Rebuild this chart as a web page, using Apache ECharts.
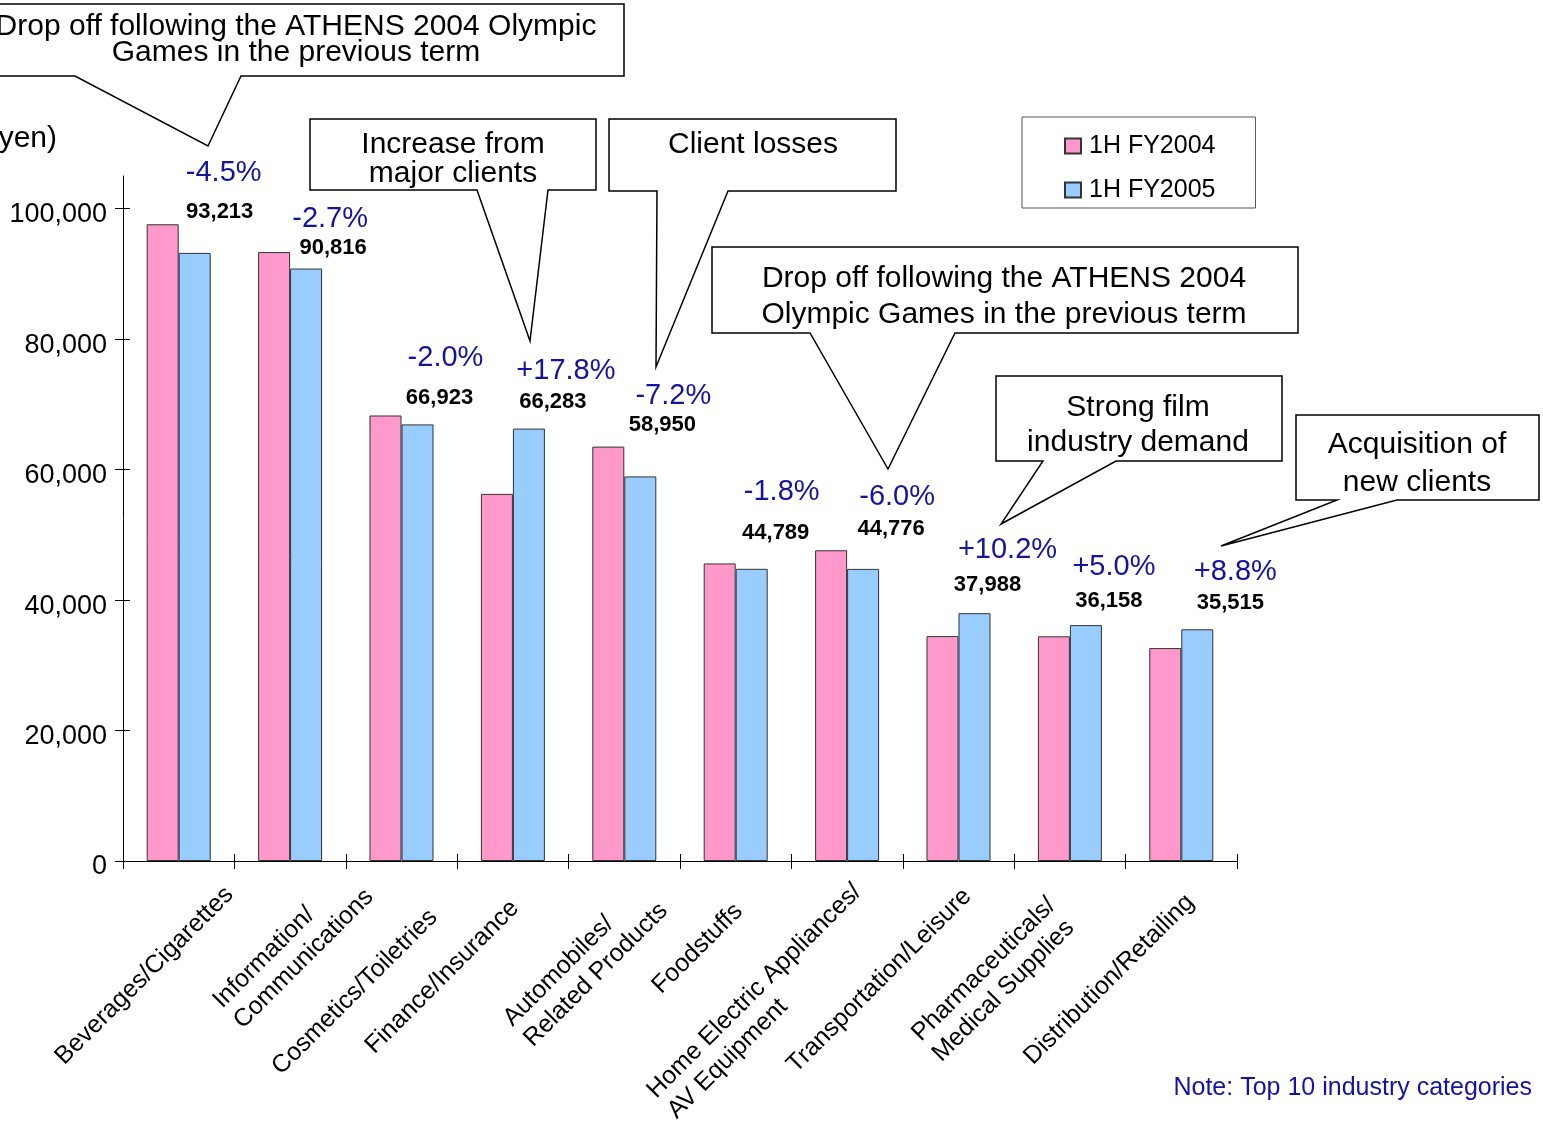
<!DOCTYPE html>
<html><head><meta charset="utf-8">
<script src="https://cdn.jsdelivr.net/npm/echarts@6/dist/echarts.min.js"></script>
<style>html,body{margin:0;padding:0;background:#fff}#c{width:1543px;height:1122px}</style>
</head><body><div id="c"></div>
<script>
// ---------- data ----------
const categories = [
  'Beverages/Cigarettes',
  'Information/\nCommunications',
  'Cosmetics/Toiletries',
  'Finance/Insurance',
  'Automobiles/\nRelated Products',
  'Foodstuffs',
  'Home Electric Appliances/\nAV Equipment',
  'Transportation/Leisure',
  'Pharmaceuticals/\nMedical Supplies',
  'Distribution/Retailing'
];
const seriesNames = ['1H FY2004', '1H FY2005'];
const fy2004 = [97600, 93340, 68290, 56270, 63520, 45610, 47630, 34470, 34440, 32640];
const fy2005 = [93213, 90816, 66923, 66283, 58950, 44789, 44776, 37988, 36158, 35515];
const pctChange = [-4.5, -2.7, -2.0, 17.8, -7.2, -1.8, -6.0, 10.2, 5.0, 8.8];
const yTicks = [0, 20000, 40000, 60000, 80000, 100000];
const unitLabel = '(yen)';
const noteText = 'Note: Top 10 industry categories';

// ---------- layout (annotation placement only) ----------
const valueLabelOffsets = [[25,-30],[27,-10],[22,-15],[24,-16],[22,-40],[24,-25],[28,-29],[13,-17],[23,-13],[33,-15]];
const pctLabelOffsets = [[61,-36],[56,-18],[60,-42],[69,-108],[65,-36],[62,-56],[66,-38],[65,-71],[60,-54],[70,-61]];
const catLabelOffsets = [[-109,210],[-42,174],[-115,220],[-133,199],[-86,192],[-69,139],[-165,264],[-157,218],[-123,207],[-143,210]];
const callouts = [
  {box:[-10,4,624,76], wedge:[75,241,208,146], cx:296, ys:[27,53], lines:['Drop off following the ATHENS 2004 Olympic','Games in the previous term']},
  {box:[310,119,596,190], wedge:[477,548,530,341], cx:453, ys:[145,174], lines:['Increase from','major clients']},
  {box:[609,119,896,191], wedge:[657,728,656,367], cx:753, ys:[145], lines:['Client losses']},
  {box:[712,247,1298,333], wedge:[810,955,888,469], cx:1004, ys:[279,315], lines:['Drop off following the ATHENS 2004','Olympic Games in the previous term']},
  {box:[996,376,1282,461], wedge:[1043,1116,1001,524], cx:1138, ys:[408,443], lines:['Strong film','industry demand']},
  {box:[1296,415,1539,500], wedge:[1337,1397,1221,546], cx:1417, ys:[445,483], lines:['Acquisition of','new clients']}
];

const FF = '"Liberation Sans", Arial, Helvetica, sans-serif';
const NAVY = '#1414a0';
const fmtPct = v => (v > 0 ? '+' : '') + v.toFixed(1) + '%';
const fmtNum = v => Number(v).toLocaleString('en-US');

const chart = echarts.init(document.getElementById('c'), null, {renderer: 'canvas'});

const option = {
  animation: false,
  backgroundColor: '#fff',
  grid: {left: 123, right: 306, top: 176, bottom: 261, containLabel: false},
  legend: {
    orient: 'vertical', left: 1022, top: 117,
    padding: [15, 40, 4, 42], itemGap: 16, itemWidth: 16, itemHeight: 15,
    borderColor: '#555', borderWidth: 1, icon: 'rect',
    textStyle: {fontSize: 25, fontFamily: FF, color: '#000', lineHeight: 28, padding: [0,0,0,3]},
    data: seriesNames
  },
  xAxis: [
    {type: 'category', data: categories, position: 'bottom',
     axisLine: {lineStyle: {color: '#000', width: 1}},
     axisTick: {show: true, interval: 0, length: 8, lineStyle: {color: '#000'}},
     axisLabel: {show: false, interval: 0}, splitLine: {show: false}},
    {type: 'category', data: categories, position: 'bottom',
     axisLine: {show: false},
     axisTick: {show: true, interval: 0, inside: true, length: 7, lineStyle: {color: '#000'}},
     axisLabel: {show: false, interval: 0}, splitLine: {show: false}}
  ],
  yAxis: [
    {type: 'value', min: 0, max: 105000, position: 'left',
     axisLine: {show: true, lineStyle: {color: '#000', width: 1}},
     axisTick: {show: true, length: 8, customValues: yTicks, lineStyle: {color: '#000'}},
     axisLabel: {customValues: yTicks, formatter: v => fmtNum(v), fontSize: 27, fontFamily: FF, color: '#000', margin: 16,
                 verticalAlign: 'top', lineHeight: 12},
     splitLine: {show: false}},
    {type: 'value', min: 0, max: 105000, position: 'left',
     axisLine: {show: false},
     axisTick: {show: true, inside: true, length: 7, customValues: yTicks, lineStyle: {color: '#000'}},
     axisLabel: {show: false}, splitLine: {show: false}}
  ],
  series: [
    {type: 'bar', name: seriesNames[0], barWidth: 32, barGap: '0%',
     itemStyle: {color: '#FF99CC', borderColor: '#333', borderWidth: 1},
     data: fy2004.map((v, i) => ({value: v, label: {offset: pctLabelOffsets[i]}})),
     label: {show: true, position: 'top', distance: 0,
       formatter: p => fmtPct(pctChange[p.dataIndex]),
       fontSize: 29, lineHeight: 30, fontFamily: FF, color: NAVY}},
    {type: 'bar', name: seriesNames[1], barWidth: 32, barGap: '0%',
     itemStyle: {color: '#99CCFF', borderColor: '#333', borderWidth: 1},
     data: fy2005.map((v, i) => ({value: v, label: {offset: valueLabelOffsets[i]}})),
     label: {show: true, position: 'top', distance: 0,
       formatter: p => fmtNum(p.value),
       fontSize: 22, lineHeight: 22, fontWeight: 'bold', fontFamily: FF, color: '#000'}}
  ]
};
chart.setOption(option);

// ---------- graphic annotations ----------
const els = [];
const axisY = chart.convertToPixel({yAxisIndex: 0}, 0);
categories.forEach((c, i) => {
  const px = chart.convertToPixel({xAxisIndex: 0}, c);
  const off = catLabelOffsets[i];
  els.push({type: 'text', x: px + off[0], y: axisY + off[1], rotation: Math.PI / 4, z: 5,
    style: {text: c, font: '25px ' + FF, fill: '#000', align: 'left', verticalAlign: 'bottom',
            textAlign: 'left', textVerticalAlign: 'bottom', lineHeight: 29}});
});
callouts.forEach(co => {
  const [x1, y1, x2, y2] = co.box;
  const [b1, b2, tx, ty] = co.wedge;
  els.push({type: 'polygon', z: 10,
    shape: {points: [[x1,y1],[x2,y1],[x2,y2],[b2,y2],[tx,ty],[b1,y2],[x1,y2]]},
    style: {fill: '#fff', stroke: '#000', lineWidth: 1.5}});
  co.lines.forEach((t, k) => {
    els.push({type: 'text', x: co.cx, y: co.ys[k], z: 11,
      style: {text: t, font: '30px ' + FF, fill: '#000', align: 'center', verticalAlign: 'middle',
              textAlign: 'center', textVerticalAlign: 'middle'}});
  });
});
els.push({type: 'text', x: 57, y: 139, z: 11,
  style: {text: unitLabel, font: '30px ' + FF, fill: '#000', align: 'right', verticalAlign: 'middle',
          textAlign: 'right', textVerticalAlign: 'middle'}});
els.push({type: 'text', x: 1532, y: 1088, z: 11,
  style: {text: noteText, font: '25px ' + FF, fill: NAVY, align: 'right', verticalAlign: 'middle',
          textAlign: 'right', textVerticalAlign: 'middle'}});
chart.setOption({graphic: els});
</script>
</body></html>
